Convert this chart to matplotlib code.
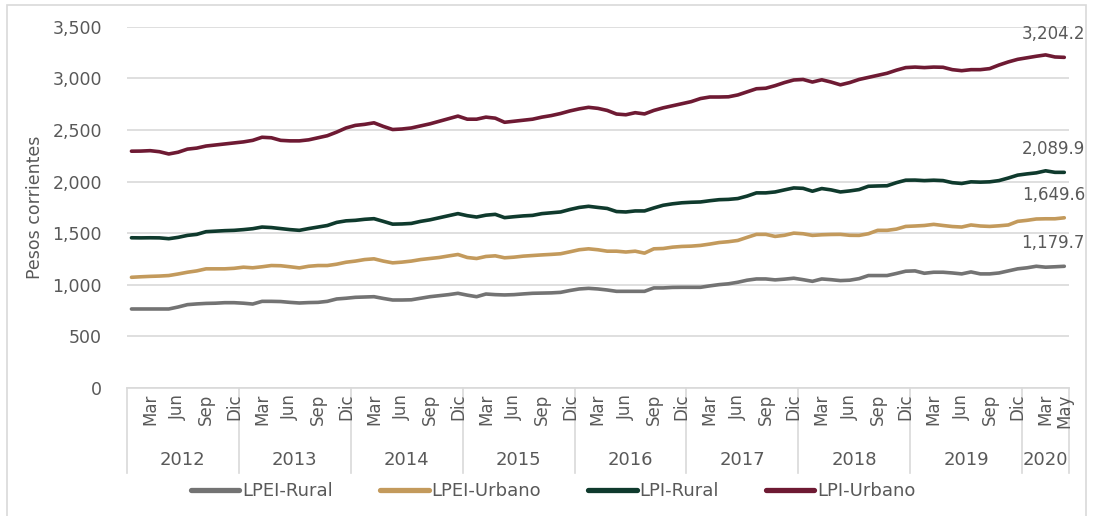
import matplotlib.pyplot as plt
import matplotlib.patches as mpatches
import numpy as np

# Líneas de pobreza, pesos corrientes, ene-2012 a may-2020 (mensual)
anios = [2012, 2013, 2014, 2015, 2016, 2017, 2018, 2019, 2020]
meses = ['Ene', 'Feb', 'Mar', 'Abr', 'May', 'Jun', 'Jul', 'Ago', 'Sep', 'Oct', 'Nov', 'Dic']
meses_mostrar = ['Mar', 'Jun', 'Sep', 'Dic']
meses_mostrar_2020 = ['Mar', 'May']
meses_2020 = 5

lpi_urbano = [
    2295, 2296, 2300, 2290, 2268, 2285, 2315, 2325, 2345, 2355, 2365, 2375,
    2385, 2400, 2430, 2425, 2400, 2395, 2395, 2405, 2425, 2445, 2480, 2520,
    2545, 2555, 2570, 2535, 2505, 2510, 2520, 2540, 2560, 2585, 2610, 2635,
    2605, 2605, 2625, 2615, 2575, 2585, 2595, 2605, 2625, 2640, 2660, 2685,
    2705, 2720, 2710, 2690, 2655, 2648, 2668, 2656, 2690, 2715, 2735, 2755,
    2775, 2805, 2820, 2820, 2822, 2840, 2870, 2900, 2905, 2930, 2960, 2985,
    2990, 2965, 2987, 2965, 2938, 2960, 2990, 3010, 3030, 3050, 3080, 3105,
    3110, 3105, 3110, 3108, 3085, 3075, 3085, 3085, 3095, 3130, 3160, 3185,
    3200, 3215, 3228, 3208, 3204.2]
lpi_rural = [
    1456, 1455, 1456, 1455, 1447, 1460, 1479, 1489, 1515, 1520, 1525, 1528,
    1535, 1544, 1560, 1555, 1545, 1535, 1528, 1545, 1560, 1575, 1605, 1620,
    1625, 1635, 1641, 1615, 1588, 1590, 1595, 1615, 1630, 1650, 1670, 1690,
    1670, 1657, 1675, 1683, 1651, 1660, 1668, 1673, 1690, 1698, 1706, 1730,
    1750, 1761, 1750, 1740, 1710, 1706, 1716, 1716, 1745, 1771, 1785, 1795,
    1800, 1803, 1815, 1825, 1828, 1836, 1860, 1891, 1891, 1900, 1920, 1939,
    1935, 1907, 1933, 1920, 1900, 1910, 1923, 1955, 1958, 1960, 1990, 2014,
    2015, 2010, 2014, 2010, 1990, 1982, 1998, 1995, 1998, 2010, 2035, 2063,
    2075, 2085, 2105, 2090, 2089.9]
lpei_urbano = [
    1073, 1078, 1082, 1085, 1090, 1105, 1122, 1135, 1155, 1155, 1155, 1160,
    1171, 1165, 1175, 1187, 1185, 1175, 1164, 1180, 1187, 1187, 1200, 1219,
    1230, 1245, 1252, 1230, 1213, 1220, 1230, 1245, 1255, 1265, 1280, 1294,
    1265, 1255, 1275, 1281, 1262, 1268, 1278, 1284, 1290, 1295, 1301, 1320,
    1340, 1349, 1340, 1326, 1326, 1318, 1326, 1307, 1349, 1352, 1365, 1372,
    1375, 1382, 1395, 1410, 1418, 1430, 1460, 1489, 1489, 1469, 1480, 1501,
    1495, 1479, 1485, 1488, 1489, 1480, 1479, 1495, 1528, 1528, 1540, 1566,
    1570, 1575, 1586, 1575, 1565, 1560, 1580, 1570, 1566, 1572, 1580, 1615,
    1625, 1638, 1640, 1640, 1649.6]
lpei_rural = [
    766, 766, 766, 766, 766, 785, 808, 815, 820, 822, 827, 827,
    822, 814, 840, 840, 838, 830, 824, 828, 830, 840, 863, 870,
    879, 882, 885, 868, 853, 853, 855, 870, 885, 895, 905, 918,
    900, 885, 911, 905, 902, 905, 912, 918, 920, 922, 927, 945,
    960, 966, 960, 950, 937, 937, 937, 937, 970, 970, 975, 976,
    976, 976, 990, 1002, 1010, 1025, 1045, 1057, 1057, 1048, 1055, 1064,
    1050, 1034, 1057, 1050, 1041, 1045, 1060, 1090, 1090, 1090, 1110, 1132,
    1135, 1112, 1122, 1122, 1115, 1106, 1125, 1106, 1106, 1115, 1135, 1155,
    1165, 1180, 1171, 1175, 1179.7]

series = [
    ('LPEI-Rural', lpei_rural, '#737373'),
    ('LPEI-Urbano', lpei_urbano, '#C39A5C'),
    ('LPI-Rural', lpi_rural, '#0F3A2D'),
    ('LPI-Urbano', lpi_urbano, '#6E1A33'),
]

gris_txt = '#595959'
gris_lin = '#D9D9D9'
plt.rcParams['font.family'] = ['DejaVu Sans']

fig = plt.figure(figsize=(10.93, 5.16), dpi=100)
ax = fig.add_axes([0.116, 0.248, 0.862, 0.7])

x = np.arange(len(lpi_urbano))
for nombre, vals, color in series:
    ax.plot(x, vals, color=color, linewidth=2.6, label=nombre, solid_capstyle='round')
    ax.annotate(f'{vals[-1]:,.1f}', (x[-1], vals[-1]), xytext=(-11, 23),
                textcoords='offset pixels', ha='center', va='center',
                fontsize=12, color=gris_txt)

ax.set_xlim(-0.5, len(x) - 0.5)
ax.set_ylim(0, 3500)
ax.set_yticks(np.arange(0, 3501, 500))
ax.set_yticklabels([f'{v:,}' for v in range(0, 3501, 500)], fontsize=12.5, color=gris_txt)
ax.tick_params(axis='y', length=0, pad=18)
ax.yaxis.grid(True, color=gris_lin, linewidth=1.2)
ax.set_axisbelow(True)
for s in ['left', 'right', 'top']:
    ax.spines[s].set_visible(False)
ax.spines['bottom'].set_color(gris_lin)
ax.spines['bottom'].set_linewidth(1.2)
ax.set_xticks([])
ax.set_ylabel('Pesos corrientes', fontsize=12.5, color=gris_txt, labelpad=6)

# eje de categorías en dos niveles (mes / año)
trans = ax.get_xaxis_transform()
for k, anio in enumerate(anios):
    n = 12 if anio != 2020 else meses_2020
    visibles = meses_mostrar if anio != 2020 else meses_mostrar_2020
    inicio = k * 12
    for m in range(n):
        if meses[m] in visibles:
            ax.text(inicio + m, -0.016, meses[m], transform=trans, rotation=90,
                    ha='center', va='top', fontsize=12, color=gris_txt)
    ax.text(inicio + (n - 1) / 2, -0.2, str(anio), transform=trans,
            ha='center', va='center', fontsize=13, color=gris_txt)
    ax.plot([inicio - 0.5, inicio - 0.5], [0, -0.235], transform=trans,
            color=gris_lin, linewidth=1.2, clip_on=False)
ax.plot([len(x) - 0.5, len(x) - 0.5], [0, -0.235], transform=trans,
        color=gris_lin, linewidth=1.2, clip_on=False)

leg = fig.legend(loc='center', bbox_to_anchor=(0.506, 0.048), ncol=4, frameon=False,
                 fontsize=13, handlelength=2.7, handletextpad=0.15, columnspacing=2.6)
for t in leg.get_texts():
    t.set_color(gris_txt)
for h in leg.get_lines():
    h.set_linewidth(3.8)

fig.patches.append(mpatches.Rectangle((0.0065, -0.01), 0.987, 1.0, transform=fig.transFigure,
                                      fill=False, edgecolor=gris_lin, linewidth=1.2))

fig.savefig('out.png', dpi=100)
